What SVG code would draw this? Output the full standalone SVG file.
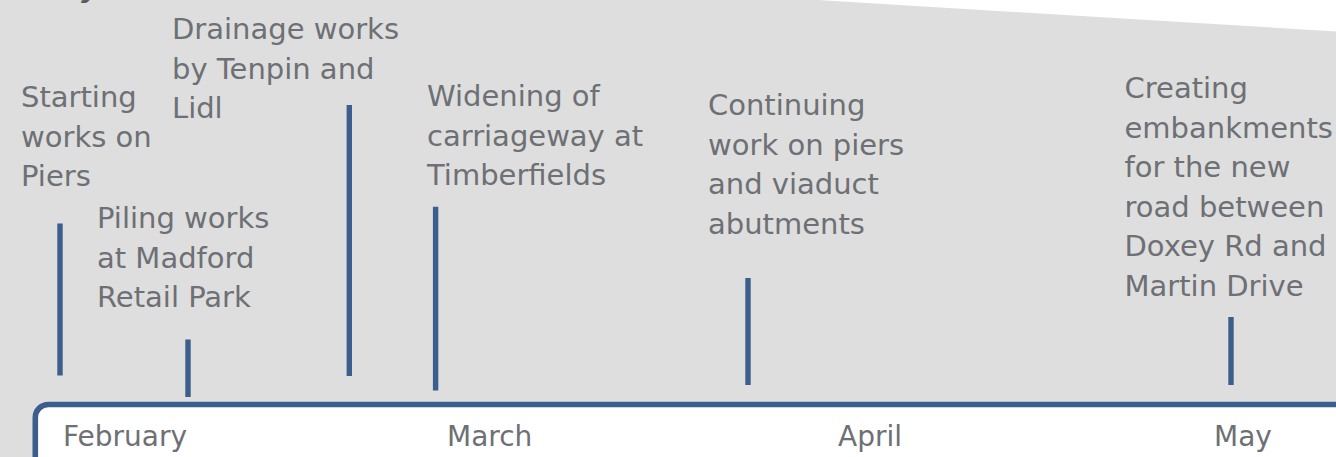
<svg xmlns="http://www.w3.org/2000/svg" width="1336" height="457" viewBox="0 0 1336 457">
<style>
.lbl{font-family:"DejaVu Sans","Liberation Sans",sans-serif;font-size:29px;fill:#6d7074}
.mon{font-family:"DejaVu Sans","Liberation Sans",sans-serif;font-size:28px;fill:#6d7074}
.tick{stroke:#3b5e8c;stroke-width:5.4;fill:none}
</style>
<rect width="1336" height="457" fill="#ffffff"/>
<polygon points="0,0 818,0 1336,31.5 1336,457 0,457" fill="#dedede"/>
<text x="82" y="-5" font-family="DejaVu Sans, sans-serif" font-size="38" font-style="italic" fill="#5a5a5a">y</text>
<g id="timeline-bar">
<rect x="35.3" y="404.5" width="1340" height="80" rx="13" ry="13" fill="#ffffff" stroke="#3b5e8c" stroke-width="5.6"/>
</g>
<g id="months">
<text class="mon" x="63" y="446">February</text>
<text class="mon" x="447" y="446">March</text>
<text class="mon" x="838" y="446">April</text>
<text class="mon" x="1214" y="446">May</text>
</g>
<g id="connectors">
<line class="tick" x1="60" y1="223.5" x2="60" y2="375.5"/>
<line class="tick" x1="188" y1="339.5" x2="188" y2="397"/>
<line class="tick" x1="349.3" y1="105" x2="349.3" y2="376"/>
<line class="tick" x1="435.6" y1="206.7" x2="435.6" y2="390.5"/>
<line class="tick" x1="748" y1="278" x2="748" y2="385"/>
<line class="tick" x1="1231" y1="317" x2="1231" y2="385"/>
</g>
<g id="event-starting">
<text class="lbl"><tspan x="21" y="107">Starting</tspan><tspan x="21" y="146.5">works on</tspan><tspan x="21" y="186">Piers</tspan></text>
</g>
<g id="event-piling">
<text class="lbl"><tspan x="97" y="228.3">Piling works</tspan><tspan x="97" y="267.8">at Madford</tspan><tspan x="97" y="307.3">Retail Park</tspan></text>
</g>
<g id="event-drainage">
<text class="lbl"><tspan x="172" y="39">Drainage works</tspan><tspan x="172" y="78.5">by Tenpin and</tspan><tspan x="172" y="118">Lidl</tspan></text>
</g>
<g id="event-widening">
<text class="lbl"><tspan x="427" y="106">Widening of</tspan><tspan x="427" y="145.5">carriageway at</tspan><tspan x="427" y="185">Timberfields</tspan></text>
</g>
<g id="event-continuing">
<text class="lbl"><tspan x="708" y="115">Continuing</tspan><tspan x="708" y="154.5">work on piers</tspan><tspan x="708" y="194">and viaduct</tspan><tspan x="708" y="233.5">abutments</tspan></text>
</g>
<g id="event-creating">
<text class="lbl"><tspan x="1124.5" y="98.3">Creating</tspan><tspan x="1124.5" y="137.8">embankments</tspan><tspan x="1124.5" y="177.3">for the new</tspan><tspan x="1124.5" y="216.8">road between</tspan><tspan x="1124.5" y="256.3">Doxey Rd and</tspan><tspan x="1124.5" y="295.8">Martin Drive</tspan></text>
</g>
</svg>
